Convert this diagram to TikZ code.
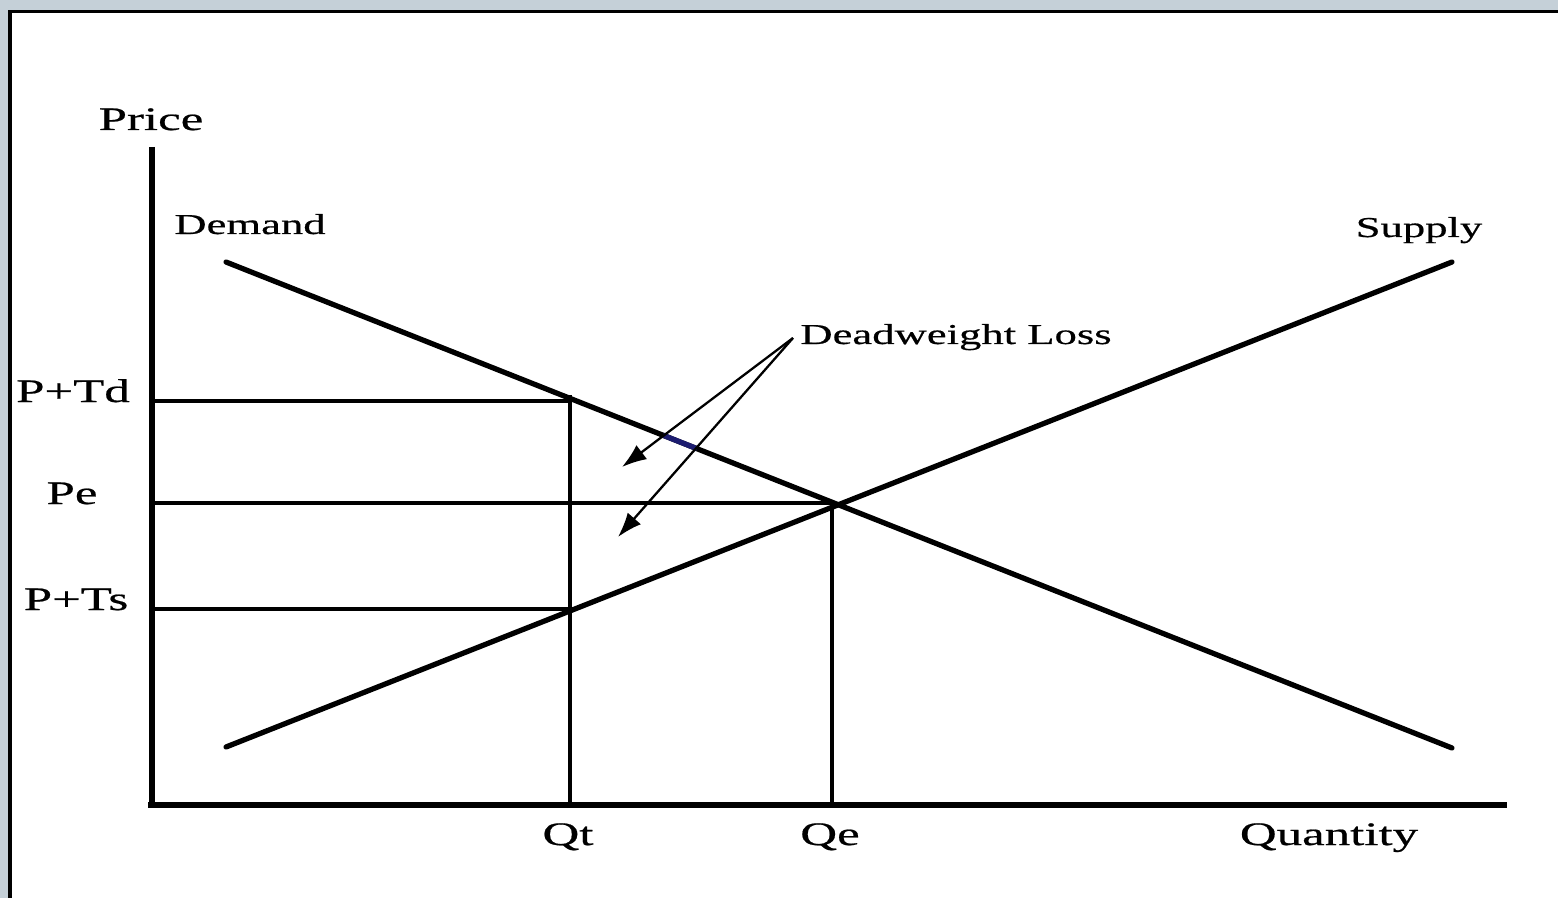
\documentclass[tikz,border=0pt]{standalone}
\usepackage{fontspec}
\setmainfont{Liberation Serif}[FakeStretch=1.55,FakeBold=0.6]
\usetikzlibrary{arrows.meta}
\definecolor{bgframe}{HTML}{C5D0D8}
\definecolor{navyseg}{HTML}{1C1C70}
\begin{document}
\begin{tikzpicture}[x=0.02cm,y=-0.02cm,
  axis/.style={line width=3.6pt},
  curve/.style={line width=3pt, line cap=round},
  guide/.style={line width=1.8pt},
  pointer/.style={line width=1.3pt,-{Latex[length=14pt,width=10pt]}},
  biglabel/.style={anchor=base,inner sep=0pt,font=\fontsize{18.7}{20}\selectfont},
  smalllabel/.style={anchor=base,inner sep=0pt,font=\fontsize{16.4}{18}\selectfont}]
\useasboundingbox (0,0) rectangle (1558,898);
\fill[bgframe] (0,0) rectangle (1558,898);
\fill[black] (7.5,10) rectangle (1558,898);
\fill[white] (12,13.5) rectangle (1558,898);
% key points
\coordinate (O) at (152,805);
\coordinate (Ytop) at (152,147);
\coordinate (Xend) at (1507,805);
\coordinate (D1) at (226,262);
\coordinate (D2) at (1452,748);
\coordinate (S1) at (226,747);
\coordinate (S2) at (1452,262);
\coordinate (E) at (832,503);
\coordinate (Qtop) at (570,395);
\coordinate (Td) at (155,401);
\coordinate (Tdr) at (570,401);
\coordinate (Ts) at (155,609);
\coordinate (Tsr) at (570,609);
\coordinate (Pel) at (155,503);
\coordinate (A0) at (793,338);
\coordinate (T1) at (622,467);
\coordinate (T2) at (618,537);
\coordinate (N1) at (663,435.2);
\coordinate (N2) at (697,448.7);
% guide lines
\draw[guide] (Pel) -- (E);
\draw[guide] (E) -- (E |- O);
\draw[guide] (Td) -- (Tdr);
\draw[guide] (Ts) -- (Tsr);
\draw[guide] (Qtop) -- (Qtop |- O);
% curves
\draw[curve] (D1) -- (D2);
\draw[curve] (S1) -- (S2);
\draw[line width=3pt, navyseg] (N1) -- (N2);
% axes
\draw[axis] (Ytop) -- (O |- 0,808);
\draw[axis] (148,805) -- (Xend);
% pointers
\draw[pointer] (A0) -- (T1);
\draw[pointer] (A0) -- (T2);
% labels
\node[biglabel] (price) at (151,130) {Price};
\node[smalllabel] (demand) at (250,234) {Demand};
\node[smalllabel] (supply) at (1419,237) {Supply};
\node[smalllabel, anchor=base west] (dwl) at (800,344) {Deadweight Loss};
\node[biglabel] (ptd) at (73,402) {P+Td};
\node[biglabel] (pe) at (72,504) {Pe};
\node[biglabel] (pts) at (76,610) {P+Ts};
\node[biglabel] (qt) at (568,845) {Qt};
\node[biglabel] (qe) at (830,845) {Qe};
\node[biglabel] (qty) at (1329,845) {Quantity};
\end{tikzpicture}
\end{document}
